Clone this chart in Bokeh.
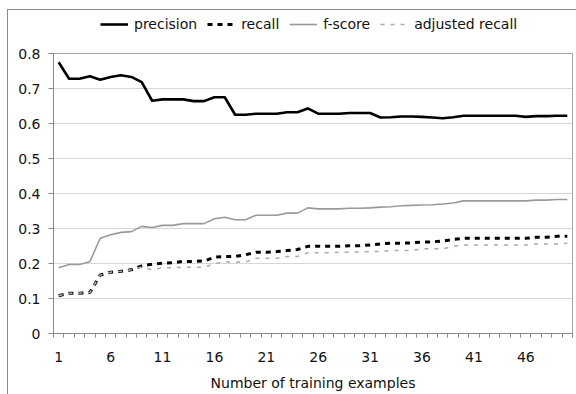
from bokeh.plotting import figure
from bokeh.layouts import column
from bokeh.models import Range1d, FixedTicker, CustomJSTickFormatter, Legend, LegendItem
from bokeh.embed import file_html
from bokeh.resources import INLINE

examples = list(range(1, 51))

precision = [0.775, 0.728, 0.728, 0.735, 0.725, 0.733, 0.738, 0.733, 0.718, 0.665,
             0.669, 0.669, 0.669, 0.664, 0.664, 0.675, 0.675, 0.625, 0.625, 0.628,
             0.628, 0.628, 0.632, 0.632, 0.643, 0.628, 0.628, 0.628, 0.630, 0.630,
             0.630, 0.617, 0.618, 0.620, 0.620, 0.619, 0.617, 0.615, 0.618, 0.622,
             0.622, 0.622, 0.622, 0.622, 0.622, 0.619, 0.621, 0.621, 0.622, 0.622]

recall = [0.108, 0.115, 0.115, 0.117, 0.167, 0.175, 0.178, 0.182, 0.193, 0.198,
          0.201, 0.202, 0.206, 0.206, 0.207, 0.218, 0.220, 0.220, 0.225, 0.232,
          0.232, 0.234, 0.237, 0.240, 0.249, 0.249, 0.249, 0.249, 0.251, 0.251,
          0.253, 0.256, 0.258, 0.258, 0.259, 0.261, 0.262, 0.264, 0.269, 0.272,
          0.272, 0.272, 0.272, 0.272, 0.272, 0.272, 0.275, 0.275, 0.278, 0.278]

f_score = [0.188, 0.197, 0.197, 0.205, 0.272, 0.282, 0.289, 0.291, 0.306, 0.303,
           0.309, 0.309, 0.314, 0.314, 0.314, 0.328, 0.332, 0.325, 0.325, 0.338,
           0.338, 0.338, 0.344, 0.344, 0.359, 0.356, 0.356, 0.356, 0.358, 0.358,
           0.359, 0.361, 0.362, 0.365, 0.366, 0.367, 0.368, 0.370, 0.373, 0.379,
           0.379, 0.379, 0.379, 0.379, 0.379, 0.379, 0.381, 0.381, 0.383, 0.383]

adjusted_recall = [0.108, 0.115, 0.115, 0.117, 0.167, 0.175, 0.178, 0.182, 0.190, 0.182,
                   0.188, 0.188, 0.189, 0.189, 0.189, 0.200, 0.204, 0.204, 0.204, 0.215,
                   0.215, 0.215, 0.220, 0.220, 0.231, 0.231, 0.231, 0.232, 0.232, 0.233,
                   0.234, 0.234, 0.237, 0.237, 0.237, 0.242, 0.242, 0.242, 0.249, 0.253,
                   0.253, 0.253, 0.253, 0.253, 0.253, 0.253, 0.256, 0.256, 0.256, 0.258]

series_names = ["precision", "recall", "f-score", "adjusted recall"]
x_tick_labels = [1, 6, 11, 16, 21, 26, 31, 36, 41, 46]
y_ticks = [0, 0.1, 0.2, 0.3, 0.4, 0.5, 0.6, 0.7, 0.8]

FONT = "DejaVu Sans"
FS = "14px"
AXIS_GREY = "#8a8a8a"

all_series = [precision, recall, f_score, adjusted_recall]
styles = [dict(line_color="black", line_width=2.6, line_join="round"),
          dict(line_color="black", line_width=3, line_dash="5 5"),
          dict(line_color="#9a9a9a", line_width=1.6, line_join="round"),
          dict(line_color="#ababab", line_width=1.5, line_dash="4 6")]

# ---- legend strip above the chart (series drawn out of view; only the legend shows) ----
lf = figure(width=568, height=33, output_backend="svg", toolbar_location=None,
            x_range=Range1d(-2, -1), y_range=Range1d(0, 1),
            x_axis_location=None, y_axis_location=None,
            min_border_left=0, min_border_right=0, min_border_top=0, min_border_bottom=0)
lf.grid.visible = False
lf.outline_line_color = None
lf.background_fill_color = "white"
lf.border_fill_color = "white"
leg_renderers = [lf.line(examples, vals, **st) for vals, st in zip(all_series, styles)]
legend = Legend(items=[LegendItem(label=n, renderers=[r]) for n, r in zip(series_names, leg_renderers)],
                orientation="horizontal", location=(47, 9),
                border_line_color=None, background_fill_alpha=0,
                padding=0, margin=0, spacing=10, glyph_width=28, glyph_height=20,
                label_height=20, label_standoff=6,
                label_text_font=FONT, label_text_font_size=FS, label_text_color="#111111")
lf.add_layout(legend)

# ---- main chart ----
p = figure(width=568, height=351, output_backend="svg", toolbar_location=None,
           x_range=Range1d(0.5, len(examples) + 0.5), y_range=Range1d(0, 0.8),
           min_border_left=45, min_border_right=4, min_border_top=10, min_border_bottom=61)
p.background_fill_color = "white"
p.border_fill_color = "white"
p.outline_line_color = "#a6a6a6"
p.outline_line_width = 1

p.xaxis.ticker = FixedTicker(ticks=x_tick_labels,
                             minor_ticks=[i + 0.5 for i in range(0, len(examples) + 1)])
p.xaxis.major_tick_out = 0
p.xaxis.major_tick_in = 0
p.xaxis.minor_tick_out = 4
p.xaxis.minor_tick_in = 0
p.xaxis.minor_tick_line_color = AXIS_GREY
p.xaxis.axis_line_color = AXIS_GREY
p.xaxis.major_label_standoff = 14
p.xaxis.major_label_text_font = FONT
p.xaxis.major_label_text_font_size = FS
p.xaxis.major_label_text_color = "#111111"
p.xaxis.axis_label = "Number of training examples"
p.xaxis.axis_label_text_font = FONT
p.xaxis.axis_label_text_font_size = FS
p.xaxis.axis_label_text_font_style = "normal"
p.xaxis.axis_label_text_color = "#111111"
p.xaxis.axis_label_standoff = 10

p.yaxis.ticker = FixedTicker(ticks=y_ticks)
p.yaxis.formatter = CustomJSTickFormatter(code="return Math.abs(tick) < 1e-9 ? '0' : tick.toFixed(1);")
p.yaxis.major_tick_out = 5
p.yaxis.major_tick_in = 0
p.yaxis.minor_tick_line_color = None
p.yaxis.major_tick_line_color = AXIS_GREY
p.yaxis.axis_line_color = AXIS_GREY
p.yaxis.major_label_standoff = 8
p.yaxis.major_label_text_font = FONT
p.yaxis.major_label_text_font_size = FS
p.yaxis.major_label_text_color = "#111111"

p.xgrid.grid_line_color = None
p.ygrid.ticker = FixedTicker(ticks=y_ticks[1:-1])
p.ygrid.grid_line_color = "#d6d6d6"
p.ygrid.grid_line_width = 1

for vals, st in zip(all_series, styles):
    p.line(examples, vals, **st)

layout = column(lf, p, spacing=0,
                styles={"margin-left": "7px", "margin-top": "9px",
                        "border-left": "1px solid #8a8a8a", "border-top": "1px solid #8a8a8a"})

open("out.html", "w").write(file_html(layout, INLINE))
